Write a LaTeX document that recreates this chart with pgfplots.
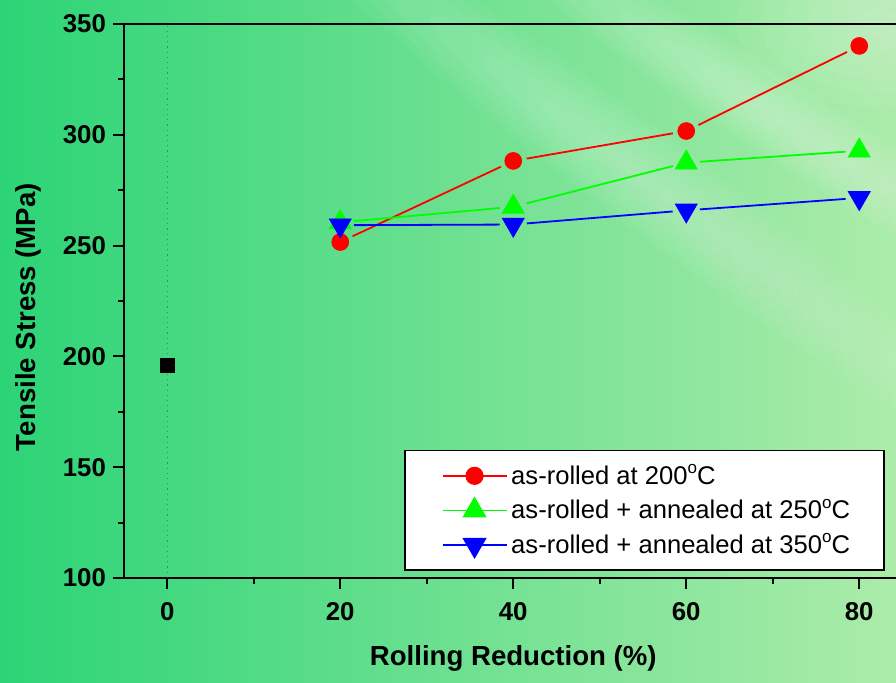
\documentclass[border=0pt]{standalone}
\usepackage{fontspec}
\setmainfont{Liberation Sans}
\usepackage{pgfplots}
\pgfplotsset{compat=1.18}
\definecolor{bgL}{RGB}{44,212,118}
\definecolor{bgM}{RGB}{112,225,132}
\definecolor{bgR}{RGB}{172,236,170}
\newcommand{\degs}{\raisebox{5.2pt}{\fontsize{8.5}{8}\selectfont o}}
\pgfplotsset{
  seg/.style={line width=0.9pt, shorten >=6.8pt, shorten <=6.8pt, mark=none, forget plot},
  leg/.style={legend image code/.code={\path (-3.5pt,0); \draw[sharp plot, line width=0.7pt, mark repeat=2, mark phase=2] plot coordinates {(0pt,0pt) (16pt,0pt) (32pt,0pt)};}},
}
\begin{document}
\begin{tikzpicture}
\path[use as bounding box] (0,0) rectangle (448pt,341.5pt);
\begin{scope}
\clip (0,0) rectangle (448pt,341.5pt);
\shade[left color=bgL, middle color=bgM, right color=bgR] (0,0) rectangle (448pt,341.5pt);
% soft light streaks
\begin{scope}[shift={(320pt,254pt)}, rotate=-37]
\foreach \i in {1,...,7}{\fill[white, opacity=0.045] (0,0) ellipse ({33*\i pt} and {3.4*\i pt});}
\end{scope}
\begin{scope}[shift={(390pt,282pt)}, rotate=-33]
\foreach \i in {1,...,7}{\fill[white, opacity=0.05] (0,0) ellipse ({24*\i pt} and {2.8*\i pt});}
\end{scope}
\begin{scope}[shift={(440pt,330pt)}]
\foreach \i in {1,...,6}{\fill[white, opacity=0.05] (0,0) ellipse ({12*\i pt} and {7*\i pt});}
\end{scope}
\begin{axis}[
  at={(62pt,52.5pt)}, anchor=south west,
  scale only axis, width=389.25pt, height=277pt,
  xmin=-5, xmax=85, ymin=100, ymax=350,
  xtick={0,20,40,60,80}, ytick={100,150,200,250,300,350},
  minor x tick num=1, minor y tick num=1,
  tick align=outside, xtick pos=bottom, ytick pos=left,
  major tick length=5.5pt, minor tick length=3pt,
  axis line style={line width=1pt},
  every tick/.style={line width=1pt, black},
  ticklabel style={font=\bfseries\fontsize{12.9}{13}\selectfont},
  xticklabel style={yshift=-3pt},
  /pgf/number format/assume math mode=true,
  xlabel={Rolling Reduction (\%)},
  ylabel={Tensile Stress (MPa)},
  label style={font=\bfseries\fontsize{13.8}{14}\selectfont},
  xlabel style={at={(axis description cs:0.5,0)}, anchor=center, yshift=-40pt},
  ylabel style={at={(axis description cs:0,0.471)}, anchor=center, yshift=48pt},
  legend cell align=left,
  legend style={at={(0.9775,0.0126)}, anchor=south east, draw=black, line width=0.8pt, fill=white,
    font=\fontsize{12.8}{13}\selectfont, row sep=2pt, inner xsep=15pt, inner ysep=5pt},
]
\draw[dotted, green!40!black, opacity=0.5, line width=0.6pt] (axis cs:0,100) -- (axis cs:0,350);
\addplot[black, only marks, mark=square*, mark size=3.6pt, forget plot] coordinates {(0,196)};
% line segments with gaps at the markers
\addplot[red, seg] coordinates {(20,251.6) (40,288.2)};
\addplot[red, seg] coordinates {(40,288.2) (60,301.7)};
\addplot[red, seg] coordinates {(60,301.7) (80,340.1)};
\addplot[green, seg] coordinates {(20,260.5) (40,267.5)};
\addplot[green, seg] coordinates {(40,267.5) (60,287.4)};
\addplot[green, seg] coordinates {(60,287.4) (80,292.8)};
\addplot[blue, seg] coordinates {(20,259.2) (40,259.5)};
\addplot[blue, seg] coordinates {(40,259.5) (60,265.9)};
\addplot[blue, seg] coordinates {(60,265.9) (80,271.5)};
% markers
\addplot[red, only marks, leg, mark=*, mark size=4.2pt, mark options={solid, fill=red, draw=red}] coordinates {(20,251.6) (40,288.2) (60,301.7) (80,340.1)};
\addlegendentry{as-rolled at 200\degs C}
\addplot[green, only marks, leg, mark=triangle*, mark size=6.3pt, mark options={solid, fill=green, draw=green}] coordinates {(20,260.5) (40,267.5) (60,287.4) (80,292.8)};
\addlegendentry{as-rolled + annealed at 250\degs C}
\addplot[blue, only marks, leg, mark=triangle*, mark size=6.3pt, mark options={solid, fill=blue, draw=blue, rotate=180}] coordinates {(20,259.2) (40,259.5) (60,265.9) (80,271.5)};
\addlegendentry{as-rolled + annealed at 350\degs C}
\end{axis}
\end{scope}
\end{tikzpicture}
\end{document}
